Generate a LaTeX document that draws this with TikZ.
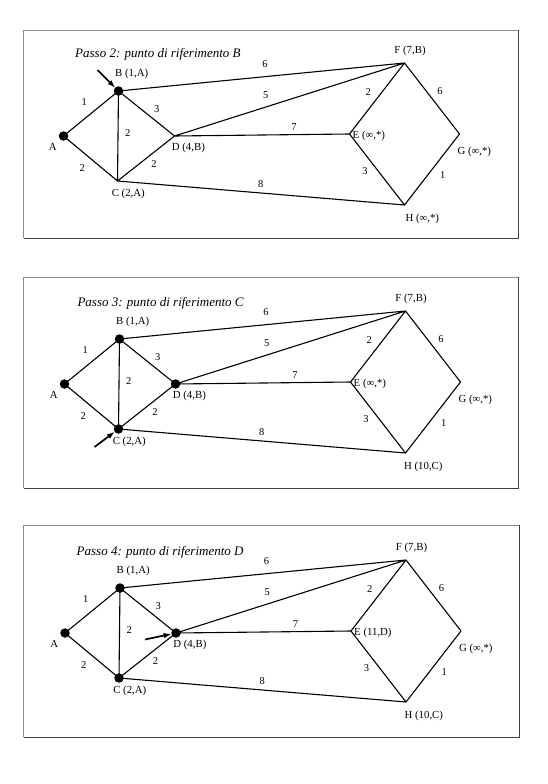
\documentclass[tikz,border=0pt]{standalone}
\usepackage{fontspec}
\setmainfont{Liberation Serif}
\usetikzlibrary{arrows.meta,calc}
\tikzset{
  vis/.style={circle, fill=black, inner sep=0pt, minimum size=9.5pt},
  edge/.style={line width=1.1pt, line cap=round, line join=round},
  wt/.style={font=\fontsize{10.5}{12}\selectfont, inner sep=0pt},
  lab/.style={font=\fontsize{10.8}{12}\selectfont, inner sep=0pt},
  ttl/.style={font=\fontsize{13}{15}\selectfont\itshape, anchor=base west, inner sep=0pt},
  ptr/.style={line width=1.7pt, -{Latex[length=8pt,width=5.5pt]}, shorten >=-0.5pt},
  frameA/.style={draw=black!45, line width=0.6pt},
  frameB/.style={draw=black!75, line width=0.7pt}
}
\newcommand\grph[1]{%
  \coordinate (A#1) at (41,107);
  \coordinate (B#1) at (96,62);
  \coordinate (C#1) at (95,152);
  \coordinate (D#1) at (152,107);
  \coordinate (E#1) at (327,105);
  \coordinate (F#1) at (382,34);
  \coordinate (G#1) at (437,105);
  \coordinate (H#1) at (382,176);
  \draw[edge] (A#1) -- (B#1) (A#1) -- (C#1) (B#1) -- (C#1) (B#1) -- (D#1)
    (C#1) -- (D#1) (B#1) -- (F#1) (D#1) -- (F#1) (D#1) -- (E#1) (C#1) -- (H#1)
    (E#1) -- (F#1) (F#1) -- (G#1) (E#1) -- (H#1) (G#1) -- (H#1);
  \node[wt] (wab#1) at (61.8,72.7) {1};
  \node[wt] (wac#1) at (59.8,139.3) {2};
  \node[wt] (wbc#1) at (105.2,103.7) {2};
  \node[wt] (wbd#1) at (134.2,80.3) {3};
  \node[wt] (wcd#1) at (131.5,135) {2};
  \node[wt] (wbf#1) at (242.5,35) {6};
  \node[wt] (wdf#1) at (243.2,66) {5};
  \node[wt] (wde#1) at (271.5,98.3) {7};
  \node[wt] (wch#1) at (238.2,155.3) {8};
  \node[wt] (wef#1) at (345.8,62.7) {2};
  \node[wt] (wfg#1) at (417.5,62) {6};
  \node[wt] (weh#1) at (342.5,141.7) {3};
  \node[wt] (wgh#1) at (420.2,146) {1};
  \node[lab] (lA#1) at (30.2,117.7) {A};
  \node[lab] (lB#1) at (109.2,45.3) {B (1,A)};
  \node[lab] (lC#1) at (105.8,165) {C (2,A)};
  \node[lab, anchor=west] (lD#1) at (149.2,119.3) {D (4,B)};
  \node[lab] (lF#1) at (387.5,22) {F (7,B)};
}
\begin{document}
\begin{tikzpicture}[x=1pt,y=-1pt]
\useasboundingbox (0,0) rectangle (548,784);
% frames
\foreach \t/\b/\r in {30/238/518.5, 277/488/518, 525/737/519}{
  \draw[frameA] (\r,\t) -- (23.5,\t) -- (23.5,\b);
  \draw[frameB] (23.5,\b) -- (\r,\b) -- (\r,\t);
}
% ---------- Passo 2
\begin{scope}[shift={(22.5,29)}]
  \grph{1}
  \node[ttl] (t1) at (52.5,28.3) {Passo 2: punto di riferimento B};
  \node[vis] (dA1) at (A1) {};
  \node[vis] (dB1) at (B1) {};
  \node[lab, anchor=west] (lE1) at (330,106.5) {E (∞,*)};
  \node[lab] (lG1) at (451.8,122.7) {G (∞,*)};
  \node[lab] (lH1) at (399.8,190) {H (∞,*)};
  \coordinate (s1) at ($(B1)+(-21,-21)$);
  \draw[ptr] (s1) -- (dB1);
\end{scope}
% ---------- Passo 3
\begin{scope}[shift={(23.5,277)}]
  \grph{2}
  \node[ttl] (t2) at (53.8,29.7) {Passo 3: punto di riferimento C};
  \node[vis] (dA2) at (A2) {};
  \node[vis] (dB2) at (B2) {};
  \node[vis] (dC2) at (C2) {};
  \node[vis] (dD2) at (D2) {};
  \node[lab, anchor=west] (lE2) at (330,106.5) {E (∞,*)};
  \node[lab] (lG2) at (451.8,122.7) {G (∞,*)};
  \node[lab] (lH2) at (399.8,190) {H (10,C)};
  \coordinate (s2) at ($(C2)+(-24,18)$);
  \draw[ptr] (s2) -- (dC2);
\end{scope}
% ---------- Passo 4
\begin{scope}[shift={(24,526)}]
  \grph{3}
  \node[ttl] (t3) at (52.5,29) {Passo 4: punto di riferimento D};
  \node[vis] (dA3) at (A3) {};
  \node[vis] (dB3) at (B3) {};
  \node[vis] (dC3) at (C3) {};
  \node[vis] (dD3) at (D3) {};
  \node[lab, anchor=west] (lE3) at (330,106.5) {E (11,D)};
  \node[lab] (lG3) at (451.8,122.7) {G (∞,*)};
  \node[lab] (lH3) at (399.8,190) {H (10,C)};
  \coordinate (s3) at ($(D3)+(-31,6.5)$);
  \draw[ptr] (s3) -- (dD3);
\end{scope}
\end{tikzpicture}
\end{document}
